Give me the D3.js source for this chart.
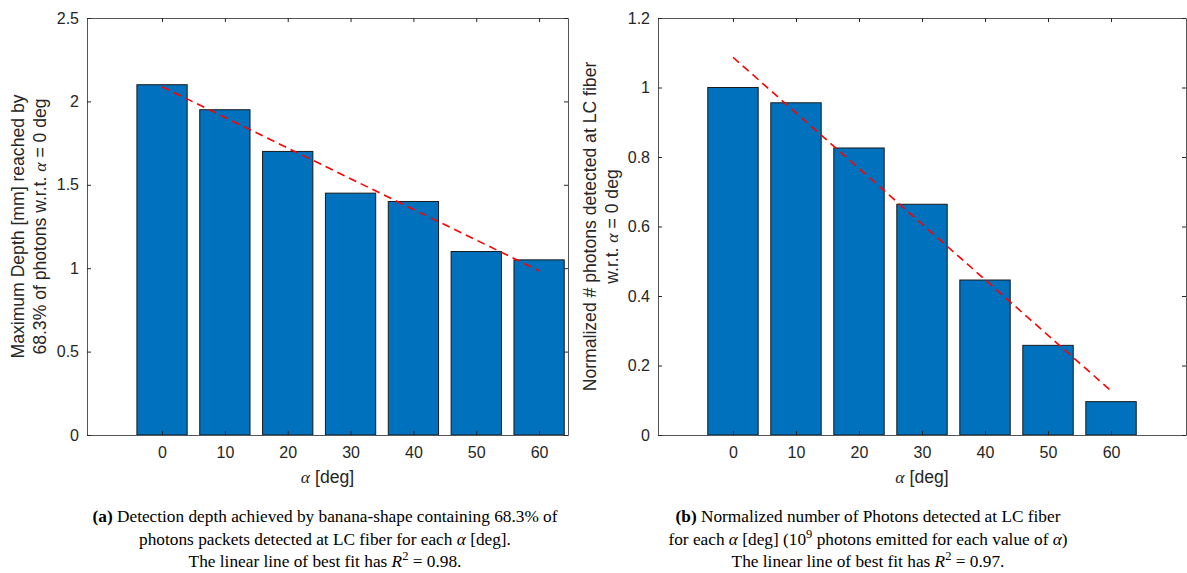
<!DOCTYPE html>
<html>
<head>
<meta charset="utf-8">
<script src="https://cdn.jsdelivr.net/npm/d3@7"></script>
<style>
  body { margin: 0; background: #fff; }
  svg { display: block; }
</style>
</head>
<body>
<svg id="fig" width="1187" height="573"></svg>
<script>
// ── Data ─────────────────────────────────────────────────────────────────────
const alphaDeg = [0, 10, 20, 30, 40, 50, 60];
const depthValues = [2.10, 1.95, 1.70, 1.45, 1.40, 1.10, 1.05];
const photonValues = [1.00, 0.956, 0.826, 0.664, 0.446, 0.258, 0.096];
// best-fit line end points (at alpha = 0 and alpha = 60)
const depthFit = [2.088, 0.985];
const photonFit = [1.087, 0.127];
const depthTicks = [0, 0.5, 1, 1.5, 2, 2.5];
const photonTicks = [0, 0.2, 0.4, 0.6, 0.8, 1, 1.2];

const svg = d3.select('#fig');
const sans = 'Liberation Sans, Arial, Helvetica, sans-serif';
const serif = 'Liberation Serif, Times New Roman, serif';
const fmt = d3.format('~g');

function panel(cfg) {
  const x = d3.scaleLinear().domain(cfg.xDomain).range([cfg.left, cfg.right]);
  const y = d3.scaleLinear().domain(cfg.yDomain).range([cfg.bottom, cfg.top]);
  const barW = x(8) - x(0);
  const g = svg.append('g');

  // bars
  g.selectAll('rect.bar')
    .data(alphaDeg.map((a, i) => ({ a, v: cfg.values[i] })))
    .join('rect')
    .attr('class', 'bar')
    .attr('x', d => x(d.a) - barW / 2)
    .attr('y', d => y(d.v))
    .attr('width', barW)
    .attr('height', d => y(0) - y(d.v))
    .attr('fill', '#0072BD')
    .attr('stroke', '#1a1a1a')
    .attr('stroke-width', 1);

  // fit line
  g.append('line')
    .attr('x1', x(alphaDeg[0])).attr('y1', y(cfg.fit[0]))
    .attr('x2', x(alphaDeg[alphaDeg.length - 1])).attr('y2', y(cfg.fit[1]))
    .attr('stroke', '#ff0000')
    .attr('stroke-width', 1.6)
    .attr('stroke-dasharray', '8,5');

  // axes (MATLAB style: inward ticks, full box)
  const axColor = '#555';
  const styleAxis = sel => {
    sel.select('.domain').attr('stroke', axColor);
    sel.selectAll('.tick line').attr('stroke', '#262626');
    sel.selectAll('.tick text')
      .attr('fill', '#262626')
      .attr('font-size', '16px')
      .attr('font-family', sans);
  };

  g.append('g')
    .attr('transform', `translate(0,${cfg.bottom})`)
    .call(d3.axisBottom(x).tickValues(alphaDeg).tickSize(-4).tickSizeOuter(0).tickPadding(12))
    .call(styleAxis);
  g.append('g')
    .attr('transform', `translate(0,${cfg.top})`)
    .call(d3.axisTop(x).tickValues(alphaDeg).tickSize(-4).tickSizeOuter(0).tickFormat(''))
    .call(styleAxis);
  g.append('g')
    .attr('transform', `translate(${cfg.left},0)`)
    .call(d3.axisLeft(y).tickValues(cfg.ticks).tickSize(-4).tickSizeOuter(0).tickPadding(8).tickFormat(fmt))
    .call(styleAxis);
  g.append('g')
    .attr('transform', `translate(${cfg.right},0)`)
    .call(d3.axisRight(y).tickValues(cfg.ticks).tickSize(-4).tickSizeOuter(0).tickFormat(''))
    .call(styleAxis);

  // x label
  const xl = g.append('text')
    .attr('x', (cfg.left + cfg.right) / 2)
    .attr('y', 483)
    .attr('text-anchor', 'middle')
    .attr('font-family', sans)
    .attr('font-size', '17.6px')
    .attr('fill', '#262626');
  xl.append('tspan').attr('font-family', serif).attr('font-style', 'italic').text('α');
  xl.append('tspan').text(' [deg]');

  // y label (two lines)
  const cy = (cfg.top + cfg.bottom) / 2;
  cfg.ylabel.forEach((parts, i) => {
    const t = g.append('text')
      .attr('transform', `translate(${cfg.ylabelX[i]},${cy}) rotate(-90)`)
      .attr('text-anchor', 'middle')
      .attr('font-family', sans)
      .attr('font-size', '17.6px')
      .attr('fill', '#262626');
    parts.forEach(p => {
      const s = t.append('tspan').text(p.t);
      if (p.it) s.attr('font-family', serif).attr('font-style', 'italic');
    });
  });

  // caption
  cfg.caption.forEach((parts, i) => {
    const t = g.append('text')
      .attr('x', cfg.captionX)
      .attr('y', 522 + i * 22.5)
      .attr('text-anchor', 'middle')
      .attr('font-family', serif)
      .attr('font-size', '17.3px')
      .attr('fill', '#000');
    parts.forEach(p => {
      const s = t.append('tspan').text(p.t);
      if (p.b) s.attr('font-weight', 'bold');
      if (p.it) s.attr('font-style', 'italic');
      if (p.sup) s.attr('font-size', '12.5px').attr('dy', '-7');
      if (p.after) s.attr('dy', '7');
    });
  });
}

panel({
  left: 87, right: 568, top: 18, bottom: 435,
  xDomain: [-11.94, 64.6], yDomain: [0, 2.5],
  values: depthValues, fit: depthFit, ticks: depthTicks,
  ylabelX: [24, 46],
  ylabel: [
    [{ t: 'Maximum Depth [mm] reached by' }],
    [{ t: '68.3% of photons w.r.t. ' }, { t: 'α', it: true }, { t: ' = 0 deg' }]
  ],
  captionX: 325,
  caption: [
    [{ t: '(a)', b: true }, { t: ' Detection depth achieved by banana-shape containing 68.3% of' }],
    [{ t: 'photons packets detected at LC fiber for each ' }, { t: 'α', it: true }, { t: ' [deg].' }],
    [{ t: 'The linear line of best fit has ' }, { t: 'R', it: true }, { t: '2', sup: true }, { t: ' = 0.98.', after: true }]
  ]
});

panel({
  left: 658, right: 1186, top: 18, bottom: 435,
  xDomain: [-11.9, 71.9], yDomain: [0, 1.2],
  values: photonValues, fit: photonFit, ticks: photonTicks,
  ylabelX: [596, 618],
  ylabel: [
    [{ t: 'Normalized # photons detected at LC fiber' }],
    [{ t: 'w.r.t. ' }, { t: 'α', it: true }, { t: ' = 0 deg' }]
  ],
  captionX: 868,
  caption: [
    [{ t: '(b)', b: true }, { t: ' Normalized number of Photons detected at LC fiber' }],
    [{ t: 'for each ' }, { t: 'α', it: true }, { t: ' [deg] (10' }, { t: '9', sup: true },
     { t: ' photons emitted for each value of ', after: true }, { t: 'α', it: true }, { t: ')' }],
    [{ t: 'The linear line of best fit has ' }, { t: 'R', it: true }, { t: '2', sup: true }, { t: ' = 0.97.', after: true }]
  ]
});
</script>
</body>
</html>
